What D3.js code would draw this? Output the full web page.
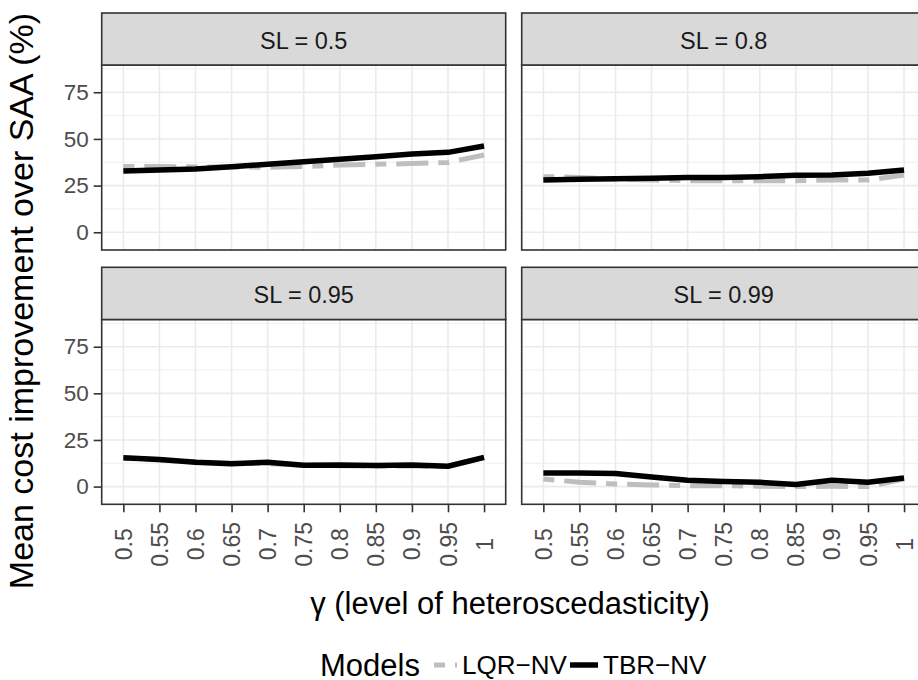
<!DOCTYPE html>
<html>
<head>
<meta charset="utf-8">
<script src="https://cdn.jsdelivr.net/npm/d3@7"></script>
<style>
  html, body { margin: 0; padding: 0; background: #fff; }
  svg { display: block; font-family: "Liberation Sans", Arial, sans-serif; }
</style>
</head>
<body>
<svg id="chart" width="918" height="680"></svg>
<script>
// ---------- data ----------
const gammaLabels = ["0.5","0.55","0.6","0.65","0.7","0.75","0.8","0.85","0.9","0.95","1"];
const panelLabels = ["SL = 0.5","SL = 0.8","SL = 0.95","SL = 0.99"];
const seriesNames = ["LQR\u2212NV","TBR\u2212NV"];
const yTicks = [0, 25, 50, 75];
const yMinor = [12.5, 37.5, 62.5, 87.5];

const lqrSL050 = [35.2, 35.2, 35.0, 35.0, 34.8, 35.2, 36.0, 36.4, 36.8, 37.4, 41.4];
const tbrSL050 = [32.8, 33.4, 33.9, 35.1, 36.4, 37.8, 39.1, 40.5, 41.9, 42.8, 46.2];
const lqrSL080 = [29.8, 29.4, 28.4, 28.0, 27.6, 27.6, 27.6, 27.6, 28.0, 28.0, 30.7];
const tbrSL080 = [28.0, 28.4, 28.7, 28.9, 29.3, 29.4, 29.8, 30.5, 30.7, 31.6, 33.4];
const lqrSL095 = [15.2, 14.2, 13.3, 12.5, 12.3, 11.5, 11.2, 11.0, 11.0, 10.8, 15.5];
const tbrSL095 = [15.4, 14.5, 13.0, 12.3, 13.0, 11.4, 11.6, 11.25, 11.6, 10.9, 15.7];
const lqrSL099 = [4.1, 2.3, 1.4, 0.9, 0.5, 0.5, 0.2, 0.0, 0.2, 0.0, 4.1];
const tbrSL099 = [7.3, 7.3, 7.0, 5.2, 3.4, 2.7, 2.3, 1.1, 3.4, 2.3, 4.6];

const panelData = [
  [lqrSL050, tbrSL050],
  [lqrSL080, tbrSL080],
  [lqrSL095, tbrSL095],
  [lqrSL099, tbrSL099]
];

// ---------- layout ----------
const svg = d3.select("#chart");
svg.append("rect").attr("width", 918).attr("height", 680).attr("fill", "#fff");

const cols = [[101.7, 505.7], [521.7, 925.7]];
const rows = [ {stripTop: 13, top: 65, bottom: 250}, {stripTop: 267.3, top: 319.5, bottom: 504.3} ];
const yDomain = [-9.5, 89.6];

const seriesStyle = [
  {color: "#BEBEBE", width: 5, dash: "11,10,32,10"},
  {color: "#000000", width: 5.5, dash: null}
];

const defs = svg.append("defs");

panelData.forEach((pd, i) => {
  const c = cols[i % 2], r = rows[Math.floor(i / 2)];
  const x = d3.scalePoint().domain(gammaLabels).range(c).padding(0.6);
  const y = d3.scaleLinear().domain(yDomain).range([r.bottom, r.top]);
  const g = svg.append("g");

  g.append("rect").attr("x", c[0]).attr("y", r.top).attr("width", c[1]-c[0]).attr("height", r.bottom-r.top)
    .attr("fill", "#fff");
  g.selectAll(".ymin").data(yMinor).join("line")
    .attr("x1", c[0]).attr("x2", c[1]).attr("y1", d => y(d)).attr("y2", d => y(d))
    .attr("stroke", "#EBEBEB").attr("stroke-width", 0.8);
  g.selectAll(".ymaj").data(yTicks).join("line")
    .attr("x1", c[0]).attr("x2", c[1]).attr("y1", d => y(d)).attr("y2", d => y(d))
    .attr("stroke", "#EBEBEB").attr("stroke-width", 1.6);
  g.selectAll(".xmaj").data(gammaLabels).join("line")
    .attr("x1", d => x(d)).attr("x2", d => x(d)).attr("y1", r.top).attr("y2", r.bottom)
    .attr("stroke", "#EBEBEB").attr("stroke-width", 1.6);

  const cid = "clip" + i;
  defs.append("clipPath").attr("id", cid).append("rect")
    .attr("x", c[0]).attr("y", r.top).attr("width", c[1]-c[0]).attr("height", r.bottom-r.top);

  const line = d3.line().x((d, j) => x(gammaLabels[j])).y(d => y(d));
  pd.forEach((vals, s) => {
    g.append("path").attr("d", line(vals)).attr("clip-path", `url(#${cid})`)
      .attr("fill", "none").attr("stroke", seriesStyle[s].color)
      .attr("stroke-width", seriesStyle[s].width)
      .attr("stroke-dasharray", seriesStyle[s].dash)
      .attr("stroke-linejoin", "round");
  });

  g.append("rect").attr("x", c[0]).attr("y", r.top).attr("width", c[1]-c[0]).attr("height", r.bottom-r.top)
    .attr("fill", "none").attr("stroke", "#333333").attr("stroke-width", 1.6);

  g.append("rect").attr("x", c[0]).attr("y", r.stripTop).attr("width", c[1]-c[0]).attr("height", r.top - r.stripTop)
    .attr("fill", "#D9D9D9").attr("stroke", "#333333").attr("stroke-width", 1.6);
  g.append("text").attr("x", (c[0]+c[1])/2).attr("y", (r.stripTop + r.top)/2 + 2)
    .attr("text-anchor", "middle").attr("dominant-baseline", "central")
    .attr("font-size", 23.5).attr("fill", "#1A1A1A").attr("xml:space", "preserve")
    .text(panelLabels[i]);

  if (i % 2 === 0) {
    const ya = d3.axisLeft(y).tickValues(yTicks).tickSize(8).tickPadding(5).tickFormat(d3.format("d"));
    const yg = svg.append("g").attr("transform", `translate(${c[0]},0)`).call(ya);
    yg.select(".domain").remove();
    yg.selectAll(".tick line").attr("stroke", "#333333").attr("stroke-width", 1.6);
    yg.selectAll(".tick text").attr("font-size", 22.5).attr("fill", "#4D4D4D")
      .attr("font-family", "Liberation Sans, Arial, sans-serif");
  }
  if (Math.floor(i / 2) === 1) {
    const xa = d3.axisBottom(x).tickSize(8).tickPadding(0);
    const xg = svg.append("g").attr("transform", `translate(0,${r.bottom})`).call(xa);
    xg.select(".domain").remove();
    xg.selectAll(".tick line").attr("stroke", "#333333").attr("stroke-width", 1.6);
    xg.selectAll(".tick text").attr("font-size", 23).attr("fill", "#4D4D4D")
      .attr("font-family", "Liberation Sans, Arial, sans-serif")
      .attr("transform", "translate(0,40) rotate(-90)")
      .attr("y", 0).attr("dy", "0.35em").attr("text-anchor", "middle");
  }
});

svg.append("text").attr("transform", "translate(21,301) rotate(-90)")
  .attr("text-anchor", "middle").attr("dominant-baseline", "central")
  .attr("font-size", 34).attr("fill", "#000").text("Mean cost improvement over SAA (%)");
svg.append("text").attr("x", 510).attr("y", 603)
  .attr("text-anchor", "middle").attr("dominant-baseline", "central")
  .attr("font-size", 31).attr("fill", "#000").text("\u03B3 (level of heteroscedasticity)");

const lg = svg.append("g");
const legY = 665;
lg.append("text").attr("x", 320).attr("y", legY).attr("dominant-baseline", "central")
  .attr("font-size", 31).attr("fill", "#000").text("Models");
const keyPos = [[434, 457, 462], [570, 598, 603]];
seriesNames.forEach((nm, s) => {
  lg.append("line").attr("x1", keyPos[s][0]).attr("x2", keyPos[s][1]).attr("y1", legY).attr("y2", legY)
    .attr("stroke", seriesStyle[s].color).attr("stroke-width", seriesStyle[s].width)
    .attr("stroke-dasharray", seriesStyle[s].dash);
  lg.append("text").attr("x", keyPos[s][2]).attr("y", legY).attr("dominant-baseline", "central")
    .attr("font-size", 26).attr("fill", "#000").text(nm);
});
</script>
</body>
</html>
